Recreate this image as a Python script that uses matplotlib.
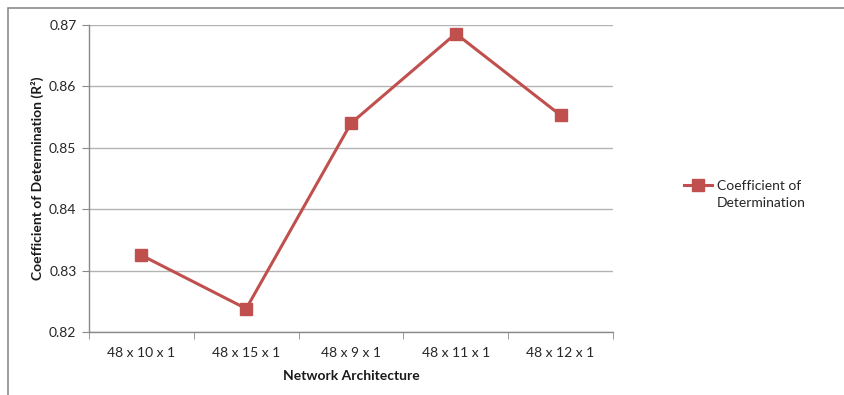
import matplotlib
matplotlib.use("Agg")
import matplotlib.pyplot as plt
from matplotlib.patches import Rectangle
from matplotlib.lines import Line2D

architectures = ["48 x 10 x 1", "48 x 15 x 1", "48 x 9 x 1", "48 x 11 x 1", "48 x 12 x 1"]
r2_values = [0.8325, 0.8238, 0.8540, 0.8686, 0.8553]
y_ticks = [0.82, 0.83, 0.84, 0.85, 0.86, 0.87]
series_name = ["Coefficient of", "Determination"]

plt.rcParams["font.family"] = ["Lato", "DejaVu Sans"]

red = "#C0504D"
grid_gray = "#B3B3B3"
axis_gray = "#898989"

fig = plt.figure(figsize=(8.45, 3.95), dpi=100)

# outer chart border
fig.patches.append(Rectangle((8 / 845, -0.1), 1.2, (395 - 8) / 395 + 0.1,
                             transform=fig.transFigure, fill=False,
                             edgecolor="#8C8C8C", linewidth=1.2))

ax = fig.add_axes([89 / 845, (395 - 332) / 395, (613 - 89) / 845, (332 - 25) / 395])

x = list(range(len(architectures)))
ax.plot(x, r2_values, color=red, linewidth=2.2, marker="s", markersize=9,
        markerfacecolor=red, markeredgecolor=red)

ax.set_xlim(-0.5, len(architectures) - 0.5)
ax.set_ylim(0.82, 0.87)
ax.set_yticks(y_ticks)
ax.set_yticklabels([f"{v:.2f}" for v in y_ticks])
ax.set_xticks(x)
ax.set_xticklabels(architectures)
ax.set_xticks([i - 0.5 for i in range(len(architectures) + 1)], minor=True)

ax.grid(axis="y", color=grid_gray, linewidth=1.0)
ax.set_axisbelow(True)
for side in ("top", "right"):
    ax.spines[side].set_visible(False)
for side in ("left", "bottom"):
    ax.spines[side].set_color(axis_gray)
    ax.spines[side].set_linewidth(1.0)

ax.tick_params(axis="x", which="major", length=0, pad=11, labelsize=10, colors="#262626")
ax.tick_params(axis="x", which="minor", length=5, color=axis_gray)
ax.tick_params(axis="y", length=5, color=axis_gray, labelsize=10, labelcolor="#262626", pad=4)

ax.set_xlabel("Network Architecture", fontsize=10, fontweight="bold", labelpad=8, color="#1a1a1a")
ax.set_ylabel("Coefficient of Determination (R²)", fontsize=10, fontweight="bold",
              labelpad=4, color="#1a1a1a")

# legend: handle sits beside the first line, the name wraps onto a second line
handle = Line2D([], [], color=red, linewidth=2.2, marker="s", markersize=8,
                markerfacecolor=red, markeredgecolor=red)
leg = fig.legend([handle], [series_name[0]], loc="center left",
                 bbox_to_anchor=(677 / 845, 1 - 186 / 395), frameon=False,
                 fontsize=10, handlelength=2.0, handletextpad=0.35, borderpad=0)
fig.canvas.draw()
first = leg.get_texts()[0].get_window_extent()
fig.text(first.x0 / fig.bbox.width, (first.y0 - 17) / fig.bbox.height, series_name[1],
         fontsize=10, color="#262626", ha="left", va="bottom")
leg.get_texts()[0].set_color("#262626")

fig.savefig("out.png", dpi=100)
